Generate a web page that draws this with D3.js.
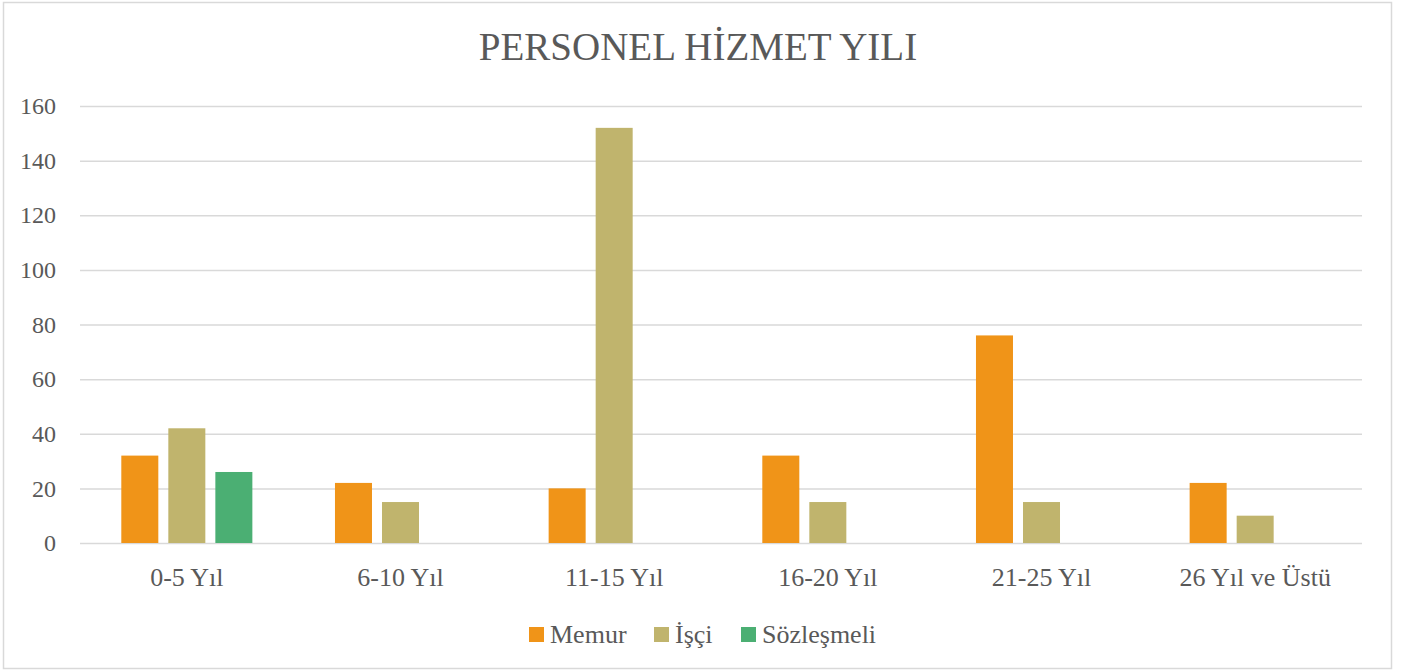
<!DOCTYPE html>
<html>
<head>
<meta charset="utf-8">
<script src="https://cdn.jsdelivr.net/npm/d3@7"></script>
<style>
  body { margin: 0; background: #fff; }
  svg { display: block; font-family: "Liberation Serif", "DejaVu Serif", serif; }
</style>
</head>
<body>
<svg width="1405" height="672"></svg>
<script>
const categories = ["0-5 Yıl", "6-10 Yıl", "11-15 Yıl", "16-20 Yıl", "21-25 Yıl", "26 Yıl ve Üstü"];
const seriesNames = ["Memur", "İşçi", "Sözleşmeli"];
const memur = [32, 22, 20, 32, 76, 22];
const isci = [42, 15, 152, 15, 15, 10];
const sozlesmeli = [26, 0, 0, 0, 0, 0];
const colors = ["#f09418", "#c0b46d", "#4baf73"];
const yTicks = [0, 20, 40, 60, 80, 100, 120, 140, 160];

const values = [memur, isci, sozlesmeli];

const svg = d3.select("svg");
const textColor = "#595959";

// çerçeve
svg.append("rect")
  .attr("x", 3.5).attr("y", 2.5)
  .attr("width", 1388).attr("height", 666)
  .attr("fill", "#fff")
  .attr("stroke", "#d9d9d9").attr("stroke-width", 1.5);

const plotLeft = 80, plotRight = 1362, plotTop = 106, plotBottom = 543;

const x0 = d3.scaleBand().domain(categories).range([plotLeft, plotRight])
  .paddingInner(0.34).paddingOuter(0.17);
const x1 = d3.scaleBand().domain(seriesNames).range([0, x0.bandwidth()])
  .paddingInner(0.213).paddingOuter(0.106);
const y = d3.scaleLinear().domain([0, 160]).range([plotBottom, plotTop]);

// başlık
svg.append("text")
  .attr("x", 698).attr("y", 60)
  .attr("text-anchor", "middle")
  .attr("fill", textColor)
  .attr("font-size", 39)
  .text("PERSONEL HİZMET YILI");

// y ekseni ve ızgara
const yAxis = svg.append("g")
  .attr("transform", `translate(${plotLeft},0)`)
  .call(d3.axisLeft(y).tickValues(yTicks).tickSize(-(plotRight - plotLeft)).tickPadding(24));
yAxis.select(".domain").remove();
yAxis.selectAll(".tick line").attr("stroke", "#d9d9d9").attr("stroke-width", 1.5);
yAxis.selectAll(".tick text")
  .attr("fill", textColor)
  .attr("font-size", 24)
  .attr("font-family", "Liberation Serif, serif");

// çubuklar
const group = svg.append("g").selectAll("g")
  .data(categories)
  .join("g")
  .attr("transform", d => `translate(${x0(d)},0)`);

group.selectAll("rect")
  .data((c, i) => seriesNames.map((s, j) => ({ s, v: values[j][i], j })).filter(d => d.v > 0))
  .join("rect")
  .attr("x", d => x1(d.s))
  .attr("y", d => y(d.v))
  .attr("width", x1.bandwidth())
  .attr("height", d => y(0) - y(d.v))
  .attr("fill", d => colors[d.j]);

// x ekseni
const xAxis = svg.append("g")
  .attr("transform", `translate(0,${plotBottom})`)
  .call(d3.axisBottom(x0).tickSize(0).tickPadding(25));
xAxis.select(".domain").remove();
xAxis.selectAll(".tick text")
  .attr("fill", textColor)
  .attr("font-size", 26)
  .attr("font-family", "Liberation Serif, serif");

// lejant
const legendX = [529, 654, 741];
const legend = svg.append("g").selectAll("g")
  .data(seriesNames)
  .join("g")
  .attr("transform", (d, i) => `translate(${legendX[i]},627)`);
legend.append("rect")
  .attr("width", 15).attr("height", 15)
  .attr("fill", (d, i) => colors[i]);
legend.append("text")
  .attr("x", 21).attr("y", 16)
  .attr("fill", textColor)
  .attr("font-size", 26)
  .text(d => d);
</script>
</body>
</html>
